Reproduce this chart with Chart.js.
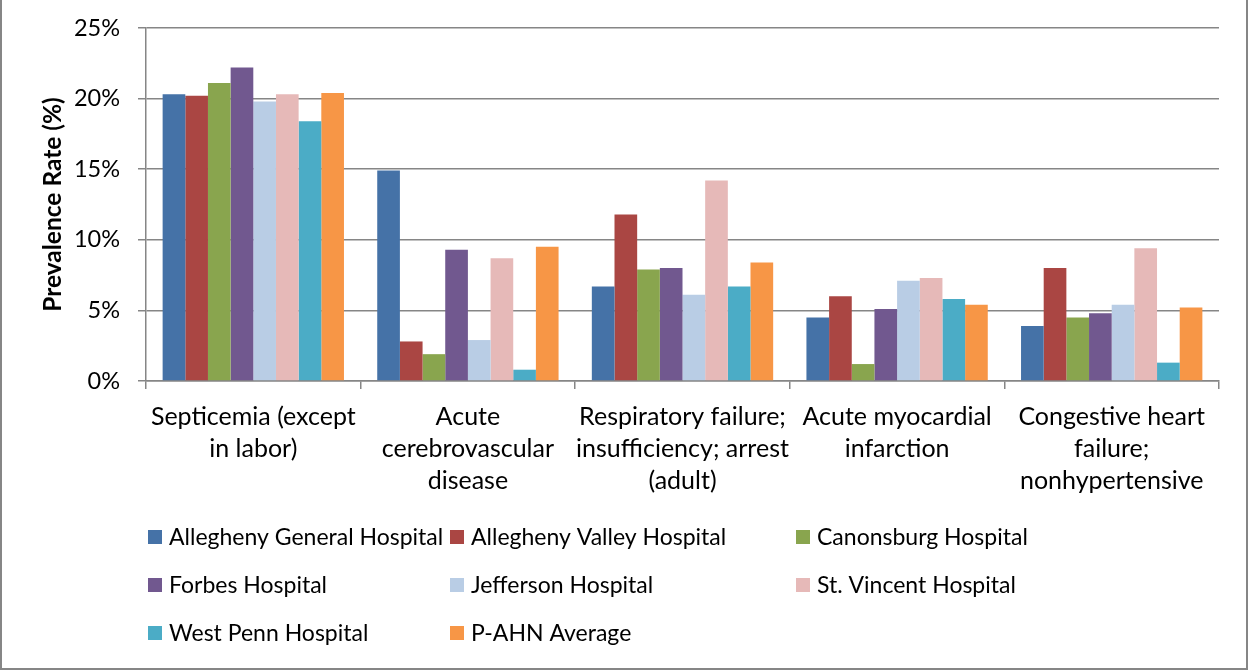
<!DOCTYPE html>
<html>
<head>
<meta charset="utf-8">
<title>Prevalence Rate by Hospital</title>
<script src="https://cdn.jsdelivr.net/npm/chart.js@4.4.1/dist/chart.umd.min.js"></script>
<style>
    html, body { margin: 0; padding: 0; background: #fff; }
    #wrap { width: 1249px; height: 671px; }
</style>
</head>
<body>
<div id="wrap"><canvas id="chart" width="1249" height="671"></canvas></div>
<script>
// Diagnosis categories (x axis, wrapped as in the original)
const categories = [
    ['Septicemia (except', 'in labor)'],
    ['Acute', 'cerebrovascular', 'disease'],
    ['Respiratory failure;', 'insufficiency; arrest', '(adult)'],
    ['Acute myocardial', 'infarction'],
    ['Congestive heart', 'failure;', 'nonhypertensive']
];

const hospitals = [
    'Allegheny General Hospital', 'Allegheny Valley Hospital', 'Canonsburg Hospital',
    'Forbes Hospital', 'Jefferson Hospital', 'St. Vincent Hospital',
    'West Penn Hospital', 'P-AHN Average'
];

// Prevalence rate (%) per category
const alleghenyGeneral = [20.3, 14.9, 6.7, 4.5, 3.9];
const alleghenyValley  = [20.2, 2.8, 11.8, 6.0, 8.0];
const canonsburg       = [21.1, 1.9, 7.9, 1.2, 4.5];
const forbes           = [22.2, 9.3, 8.0, 5.1, 4.8];
const jefferson        = [19.8, 2.9, 6.1, 7.1, 5.4];
const stVincent        = [20.3, 8.7, 14.2, 7.3, 9.4];
const westPenn         = [18.4, 0.8, 6.7, 5.8, 1.3];
const pahnAverage      = [20.4, 9.5, 8.4, 5.4, 5.2];

const yTicks = [0, 5, 10, 15, 20, 25];

const seriesValues = [alleghenyGeneral, alleghenyValley, canonsburg, forbes,
    jefferson, stVincent, westPenn, pahnAverage];
const seriesColors = ['#4572A7', '#AA4643', '#89A54E', '#71588F',
    '#B9CDE5', '#E6B9B8', '#4BACC6', '#F79646'];

const FONT = 'Lato, "Open Sans", sans-serif';
const AXIS_GREY = '#868686';

// legend laid out in three fixed columns like the original
const gridLegend = {
    id: 'gridLegend',
    afterDraw(chart) {
        const ctx = chart.ctx;
        const area = chart.chartArea;
        const colOffsets = [2, 304, 650];
        ctx.save();
        ctx.font = '23px ' + FONT;
        ctx.textBaseline = 'middle';
        chart.data.datasets.forEach((ds, i) => {
            const col = i % 3;
            const row = Math.floor(i / 3);
            const x = area.left + colOffsets[col];
            const y = area.bottom + 156 + row * 48;
            ctx.fillStyle = ds.backgroundColor;
            ctx.fillRect(x, y - 7, 14, 14);
            ctx.fillStyle = '#000';
            ctx.fillText(ds.label, x + 21, y + 1);
        });
        ctx.restore();
    }
};

const frameBorder = {
    id: 'frameBorder',
    afterDraw(chart) {
        const ctx = chart.ctx;
        const w = chart.width, h = chart.height;
        ctx.save();
        ctx.strokeStyle = AXIS_GREY;
        ctx.lineWidth = 2;
        ctx.beginPath();
        ctx.moveTo(1, 0);
        ctx.lineTo(1, h - 2);
        ctx.lineTo(w - 2, h - 2);
        ctx.lineTo(w - 2, 0);
        ctx.stroke();
        ctx.restore();
    }
};

new Chart(document.getElementById('chart'), {
    type: 'bar',
    data: {
        labels: categories,
        datasets: hospitals.map((name, i) => ({
            label: name,
            data: seriesValues[i],
            backgroundColor: seriesColors[i],
            borderWidth: 0,
            barPercentage: 1.0,
            categoryPercentage: 0.845
        }))
    },
    options: {
        responsive: false,
        animation: false,
        devicePixelRatio: 1,
        layout: {
            padding: { left: 36, right: 30, top: 28, bottom: 160 }
        },
        plugins: {
            legend: { display: false },
            tooltip: { enabled: false }
        },
        scales: {
            x: {
                grid: {
                    drawOnChartArea: false,
                    drawTicks: true,
                    tickLength: 8,
                    color: AXIS_GREY,
                    lineWidth: 1.5
                },
                border: { display: true, color: AXIS_GREY, width: 1.5 },
                ticks: {
                    color: '#000',
                    font: { family: FONT, size: 25, lineHeight: 1.28 },
                    maxRotation: 0,
                    autoSkip: false,
                    padding: 12
                },
                afterFit(scale) { scale.height = 130; }
            },
            y: {
                min: 0,
                max: 25,
                afterBuildTicks(scale) {
                    scale.ticks = yTicks.map(v => ({ value: v }));
                },
                grid: {
                    color: AXIS_GREY,
                    lineWidth: 1.5,
                    tickLength: 8
                },
                border: { display: true, color: AXIS_GREY, width: 1.5 },
                ticks: {
                    color: '#000',
                    font: { family: FONT, size: 23.5, lineHeight: 1.0 },
                    padding: 18,
                    callback: v => v + '%'
                },
                title: {
                    display: true,
                    text: 'Prevalence Rate (%)',
                    color: '#000',
                    font: { family: FONT, size: 24.5, weight: 'bold' },
                    padding: { top: 2, bottom: 0 }
                },
                afterFit(scale) {
                    scale.width = 110;
                    scale.paddingTop = 0;
                }
            }
        }
    },
    plugins: [gridLegend, frameBorder]
});
</script>
</body>
</html>
